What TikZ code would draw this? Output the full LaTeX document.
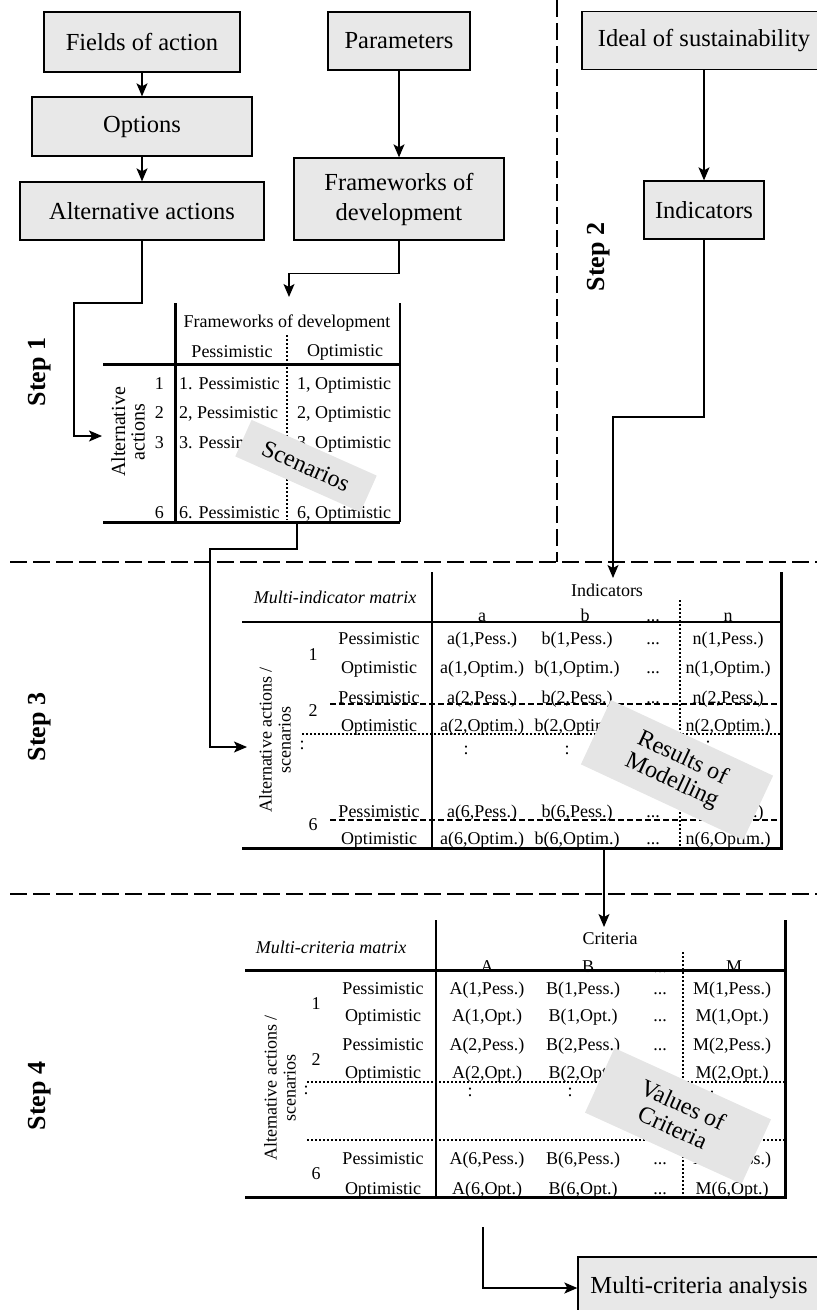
\documentclass[tikz,border=0pt]{standalone}
\usepackage{fontspec}
\setmainfont{Liberation Serif}
\usetikzlibrary{arrows.meta}
\newcommand{\ellip}{...}

\begin{document}
\begin{tikzpicture}[x=1pt,y=-1pt,
    blk/.style={draw,line width=1.3pt,fill=gray!18,align=center,inner sep=0pt,
      font=\fontsize{24.5}{30}\selectfont},
    arr/.style={line width=1.3pt,-{Stealth[length=13pt,width=11pt,inset=3pt]}},
    divider/.style={line width=2.8pt,dash pattern=on 17pt off 6pt},
    thk/.style={line width=3pt},
    thn/.style={line width=1.3pt},
    dts/.style={line width=2pt,dash pattern=on 2pt off 2pt},
    dsh/.style={line width=2pt,dash pattern=on 6pt off 3pt},
    txt/.style={inner sep=0pt,font=\fontsize{18}{19}\selectfont},
    cell/.style={txt,anchor=base},
    tag/.style={fill=gray!20,inner sep=0pt,align=center,font=\fontsize{24}{25}\selectfont},
    steplbl/.style={rotate=90,inner sep=0pt,font=\fontsize{26}{28}\selectfont\bfseries}]
  \useasboundingbox (0,0) rectangle (817,1310);

  % step 1 and 2: boxes
  \node[blk,minimum width=196,minimum height=60] (fields) at (142,42) {Fields of action};
  \node[blk,minimum width=220,minimum height=59] (options) at (142,126.5) {Options};
  \node[blk,minimum width=244,minimum height=58] (altact) at (142,211) {Alternative actions};
  \node[blk,minimum width=142,minimum height=58] (params) at (399,41) {Parameters};
  \node[blk,minimum width=210,minimum height=82] (frame) at (399,199) {Frameworks of\\development};
  \node[blk,minimum width=244,minimum height=58] (ideal) at (704,40.5) {Ideal of sustainability};
  \node[blk,minimum width=120,minimum height=58] (indic) at (704,210) {Indicators};
  \node[blk,minimum width=242,minimum height=62] (mca) at (699,1288) {Multi-criteria analysis};
  \draw[arr] (fields) -- (options);
  \draw[arr] (options) -- (altact);
  \draw[arr] (params) -- (frame);
  \draw[arr] (ideal) -- (indic);

  % dividers and step labels
  \draw[divider] (557,0) -- (557,562);
  \draw[divider] (10,562) -- (817,562);
  \draw[divider] (10,894) -- (817,894);
  \node[steplbl] (st1) at (40,372) {Step 1};
  \node[steplbl] (st2) at (599,257) {Step 2};
  \node[steplbl] (st3) at (40,727) {Step 3};
  \node[steplbl] (st4) at (40,1096) {Step 4};

  % scenario table
  \draw[thk] (175,303) -- (175,522);
  \draw[thk] (103,364) -- (400,364);
  \draw[thk] (103,522) -- (400,522);
  \draw[thn] (400,303) -- (400,522);
  \draw[dts] (287,335) -- (287,520);
  \node[txt] (fwhead) at (287,323) {Frameworks of development};
  \node[txt] (fwpess) at (232,352) {Pessimistic};
  \node[txt] (fwopt) at (345,352) {Optimistic};
  \node[txt,rotate=90,align=center,font=\fontsize{20}{19.5}\selectfont] (aalab) at (128,432) {Alternative\\actions};
  \foreach \yy/\rw/\pp in {389/1/., 418/2/{,}, 448/3/., 518/6/.}{
    \node[cell,anchor=base east] (n\rw) at (164,\yy) {\rw};
    \node[cell,anchor=base west] (p\rw) at (179,\yy) {\rw\pp{} Pessimistic};
    \node[cell,anchor=base west] (o\rw) at (297,\yy) {\rw, Optimistic};
  }

  % multi-indicator matrix
  \draw[thn] (432,572) -- (432,848);
  \draw[line width=1.6pt] (242,622) -- (782,622);
  \draw[thk] (781,572) -- (781,849.5);
  \draw[thk] (242,848) -- (782,848);
  \draw[dts] (680,600) -- (680,848);
  \draw[dsh] (330,704) -- (782,704);
  \draw[dsh] (330,820) -- (782,820);
  \draw[dts] (302,734) -- (782,734);
  \node[txt,font=\fontsize{18}{19}\selectfont\itshape] (mihead) at (335,597) {Multi-indicator matrix};
  \node[txt] (indhead) at (607,590) {Indicators};
  \foreach \xx/\cc [count=\k] in {482/a, 585/b, 653/\ellip, 728/n}
    \node[cell] (ic\k) at (\xx,621) {\cc};
  \foreach \yy/\rw/\sc/\lab [count=\k] in {644/1/Pess./Pessimistic, 673/1/Optim./Optimistic,
      703/2/Pess./Pessimistic, 731/2/Optim./Optimistic, 817/6/Pess./Pessimistic, 844/6/Optim./Optimistic}{
    \node[cell] (ml\k) at (379,\yy) {\lab};
    \node[cell] (ma\k) at (482,\yy) {a(\rw,\sc)};
    \node[cell] (mb\k) at (577,\yy) {b(\rw,\sc)};
    \node[cell] (md\k) at (653,\yy) {\ellip};
    \node[cell] (mn\k) at (728,\yy) {n(\rw,\sc)};
  }
  \foreach \yy/\rw in {660/1, 716/2, 830/6}
    \node[cell] (mr\rw) at (313,\yy) {\rw};
  \foreach \xx/\yy [count=\k] in {302/745, 466/750, 567/750, 708/745}
    \node[txt] (mv\k) at (\xx,\yy) {:};
  \node[txt,rotate=90,align=center] (aslab) at (275,740) {Alternative actions /\\scenarios};

  % multi-criteria matrix
  \draw[thn] (436,920) -- (436,1197);
  \draw[thk] (245,970) -- (785,970);
  \draw[thk] (785,920) -- (785,1198.5);
  \draw[thk] (245,1197) -- (785,1197);
  \draw[dts] (683,952) -- (683,1197);
  \draw[dts] (307,1082) -- (785,1082);
  \draw[dts] (307,1140) -- (785,1140);
  \node[txt,font=\fontsize{18}{19}\selectfont\itshape] (mchead) at (331,947) {Multi-criteria matrix};
  \node[txt] (crhead) at (610,939) {Criteria};
  \foreach \xx/\cc [count=\k] in {487/A, 588/B, 660/\ellip, 734/M}
    \node[cell] (cc\k) at (\xx,972) {\cc};
  \foreach \yy/\rw/\sc/\lab [count=\k] in {994/1/Pess./Pessimistic, 1021/1/Opt./Optimistic,
      1050/2/Pess./Pessimistic, 1078/2/Opt./Optimistic, 1164/6/Pess./Pessimistic, 1194/6/Opt./Optimistic}{
    \node[cell] (cl\k) at (383,\yy) {\lab};
    \node[cell] (ca\k) at (487,\yy) {A(\rw,\sc)};
    \node[cell] (cb\k) at (583,\yy) {B(\rw,\sc)};
    \node[cell] (cd\k) at (660,\yy) {\ellip};
    \node[cell] (cm\k) at (732,\yy) {M(\rw,\sc)};
  }
  \foreach \yy/\rw in {1009/1, 1065/2, 1179/6}
    \node[cell] (cr\rw) at (316,\yy) {\rw};
  \foreach \xx/\yy [count=\k] in {306/1090, 470/1092, 570/1092, 712/1095}
    \node[txt] (cv\k) at (\xx,\yy) {:};
  \node[txt,rotate=90,align=center] (cslab) at (280,1088) {Alternative actions /\\scenarios};

  % grey tags on top
  \node[tag,rotate=-24,minimum width=137,minimum height=40] (scen) at (306,466) {Scenarios};
  \node[tag,rotate=-25,minimum width=179,minimum height=71] (resmod) at (677,770) {Results of\\Modelling};
  \node[tag,rotate=-24.5,minimum width=172,minimum height=71] (valcr) at (678,1116) {Values of\\Criteria};

  % connectors
  \coordinate (aain) at (102,436);
  \coordinate (t1in) at (289,297);
  \coordinate (t1out) at (297,522);
  \coordinate (t3lab) at (247,747);
  \coordinate (t3in) at (613,578);
  \coordinate (t3out) at (604,850);
  \coordinate (t4in) at (604,927);
  \coordinate (t4out) at (483,1227);
  \draw[arr] (altact.south) |- (74,303) |- (aain);
  \draw[arr] (frame.south) -- ++(0,33) -| (t1in);
  \draw[arr] (indic.south) -- (704,417) -| (t3in);
  \draw[arr] (t1out) |- (210,549) |- (t3lab);
  \draw[arr] (t3out) -- (t4in);
  \draw[arr] (t4out) |- (mca.west);
\end{tikzpicture}
\end{document}
